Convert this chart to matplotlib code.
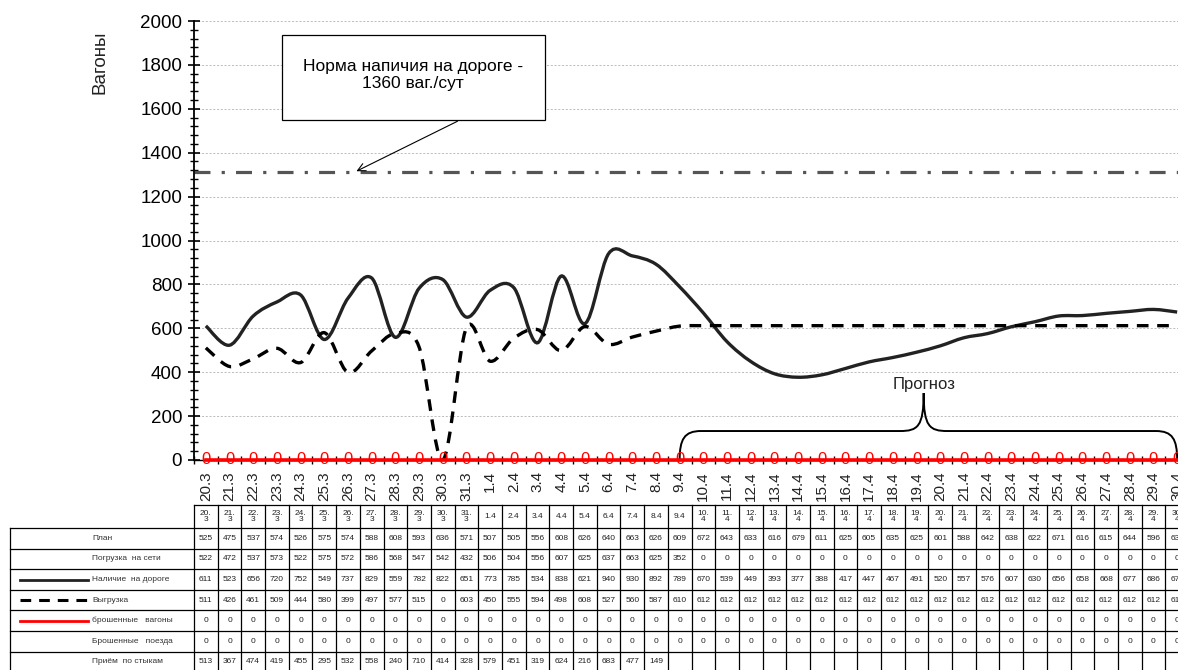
import matplotlib
matplotlib.use("Agg")
import matplotlib.pyplot as plt
from matplotlib.path import Path
from matplotlib.patches import PathPatch, Rectangle
from matplotlib.ticker import MultipleLocator, FixedLocator

plt.rcParams['font.family'] = ['Liberation Sans', 'DejaVu Sans']

# ---- данные ----
dates = ['20.3', '21.3', '22.3', '23.3', '24.3', '25.3', '26.3', '27.3', '28.3', '29.3', '30.3', '31.3',
         '1.4', '2.4', '3.4', '4.4', '5.4', '6.4', '7.4', '8.4', '9.4', '10.4', '11.4', '12.4', '13.4',
         '14.4', '15.4', '16.4', '17.4', '18.4', '19.4', '20.4', '21.4', '22.4', '23.4', '24.4', '25.4',
         '26.4', '27.4', '28.4', '29.4', '30.4']
plan = [525, 475, 537, 574, 526, 575, 574, 588, 608, 593, 636, 571,
        507, 505, 556, 608, 626, 640, 663, 626, 609, 672, 643, 633, 616,
        679, 611, 625, 605, 635, 625, 601, 588, 642, 638, 622, 671, 616, 615, 644, 596, 634]
pogruzka = [522, 472, 537, 573, 522, 575, 572, 586, 568, 547, 542, 432,
            506, 504, 556, 607, 625, 637, 663, 625, 352] + [0] * 21
nalichie = [611, 523, 656, 720, 752, 549, 737, 829, 559, 782, 822, 651,
            773, 785, 534, 838, 621, 940, 930, 892, 789, 670, 539, 449, 393,
            377, 388, 417, 447, 467, 491, 520, 557, 576, 607, 630, 656, 658, 668, 677, 686, 674]
vygruzka = [511, 426, 461, 509, 444, 580, 399, 497, 577, 515, 0, 603,
            450, 555, 594, 498, 608, 527, 560, 587, 610] + [612] * 21
brosh_vag = [0] * 42
brosh_poezd = [0] * 42
priem = [513, 367, 474, 419, 455, 295, 532, 558, 240, 710, 414, 328,
         579, 451, 319, 624, 216, 683, 477, 149] + [None] * 22
norma = 1310

row_names = ['План', 'Погрузка  на сети', 'Наличие  на дороге', 'Выгрузка',
             'брошенные   вагоны', 'Брошенные   поезда', 'Приём  по стыкам']
rows = [plan, pogruzka, nalichie, vygruzka, brosh_vag, brosh_poezd, priem]

n = len(dates)
x = list(range(n))


def smooth_path(xs, ys):
    # сглаженная линия как в Excel (кривые Безье)
    verts = [(xs[0], ys[0])]
    codes = [Path.MOVETO]
    m = len(xs)
    for i in range(m - 1):
        a = i - 1 if i > 0 else i
        d = i + 2 if i + 2 < m else i + 1
        c1 = (xs[i] + (xs[i + 1] - xs[a]) / 6, ys[i] + (ys[i + 1] - ys[a]) / 6)
        c2 = (xs[i + 1] - (xs[d] - xs[i]) / 6, ys[i + 1] - (ys[d] - ys[i]) / 6)
        verts += [c1, c2, (xs[i + 1], ys[i + 1])]
        codes += [Path.CURVE4] * 3
    return Path(verts, codes)


W, H = 1178, 670
fig = plt.figure(figsize=(W / 100, H / 100), dpi=100)
fig.patch.set_facecolor('white')

colw = 995 / 42
ax = fig.add_axes([194 / W, 210 / H, 995 / W, 439 / H])
ax.set_xlim(-0.5, n - 0.5)
ax.set_ylim(0, 2000)

ax.yaxis.set_major_locator(MultipleLocator(200))
ax.yaxis.set_minor_locator(MultipleLocator(40))
ax.tick_params(axis='y', which='major', direction='inout', length=9, width=1.2, labelsize=13.5, pad=4)
ax.tick_params(axis='y', which='minor', direction='inout', length=6, width=1)
ax.grid(axis='y', which='major', linestyle=(0, (2.5, 2)), color='#b3b3b3', linewidth=0.6)
ax.set_axisbelow(True)

ax.xaxis.set_major_locator(FixedLocator(x))
ax.xaxis.set_minor_locator(FixedLocator([i - 0.5 for i in range(n + 1)]))
ax.set_xticklabels(dates, rotation=90, fontsize=11, color='#222222')
ax.tick_params(axis='x', which='major', length=0, pad=8)
ax.tick_params(axis='x', which='minor', direction='inout', length=6, width=1)

for s in ['top', 'right']:
    ax.spines[s].set_visible(False)
ax.spines['left'].set_linewidth(1.3)
ax.spines['bottom'].set_linewidth(1)

# норма
ax.axhline(norma, color='#555555', linewidth=2.3, linestyle=(0, (5, 3.5, 1, 3.5)), zorder=2)

# кривые
ax.add_patch(PathPatch(smooth_path(x, nalichie), fill=False, edgecolor='#222222', linewidth=2.4, zorder=4))
ax.add_patch(PathPatch(smooth_path(x, vygruzka), fill=False, edgecolor='black', linewidth=2.4,
                       linestyle=(0, (3.5, 2.6)), zorder=4))
ax.plot(x, brosh_vag, color='red', linewidth=2.6, zorder=5, clip_on=False)
for xi, v in zip(x, brosh_vag):
    ax.text(xi, v, str(v), color='red', ha='center', va='center', fontsize=12, zorder=6, clip_on=False,
            family=['Liberation Sans Narrow', 'Liberation Sans', 'DejaVu Sans'])

# подпись оси
fig.text(100 / W, 1 - 62 / H, 'Вагоны', rotation=90, ha='center', va='center', fontsize=13.5, color='#222222')

# выноска нормы
fig.patches.append(Rectangle((282 / W, 1 - 120 / H), 263 / W, 85 / H, transform=fig.transFigure,
                             facecolor='white', edgecolor='black', linewidth=0.9, zorder=10))
fig.text(413 / W, 1 - 75 / H, 'Норма напичия на дороге -\n1360 ваг./сут', ha='center', va='center',
         fontsize=12.5, linespacing=1.15, zorder=11)
ax.annotate('', xy=(6.25, norma), xycoords='data', xytext=(460 / W, 1 - 120 / H),
            textcoords='figure fraction',
            arrowprops=dict(arrowstyle='->', color='black', linewidth=0.8, mutation_scale=14))

# скобка "Прогноз"
bx0, bx1, bc = 20, 41, 30.3
by, bt = 132, 305
brace_v = [(bx0, 0), (bx0, 95), (bx0 + 0.2, by), (bx0 + 0.9, by), (bc - 1.0, by),
           (bc - 0.25, by), (bc, by + 20), (bc, bt),
           (bc, by + 20), (bc + 0.25, by), (bc + 1.0, by), (bx1 - 0.9, by),
           (bx1 - 0.2, by), (bx1, 95), (bx1, 0)]
brace_c = [Path.MOVETO, Path.CURVE4, Path.CURVE4, Path.CURVE4, Path.LINETO,
           Path.CURVE4, Path.CURVE4, Path.CURVE4,
           Path.CURVE4, Path.CURVE4, Path.CURVE4, Path.LINETO,
           Path.CURVE4, Path.CURVE4, Path.CURVE4]
ax.add_patch(PathPatch(Path(brace_v, brace_c), fill=False, edgecolor='black', linewidth=1.4,
                       zorder=3, clip_on=False))
ax.text(bc, bt + 40, 'Прогноз', ha='center', va='center', fontsize=12, color='#222222')

# ---- таблица данных ----
tx0 = 10
left_u = (tx0 - 194) / colw - 0.5
tab = fig.add_axes([tx0 / W, 0, (194 + 995 - tx0) / W, 165 / H])
tab.set_xlim(left_u, n - 0.5)
tab.set_ylim(165, 0)
tab.axis('off')

hdr = 23
rh = 20.6
lw = 0.9
bottom = hdr + rh * len(rows)
# вертикальные линии
for i in range(n + 1):
    tab.plot([i - 0.5, i - 0.5], [0, bottom], color='black', linewidth=lw, clip_on=False)
tab.plot([left_u, left_u], [hdr, bottom], color='black', linewidth=lw, clip_on=False)
# горизонтальные линии
tab.plot([-0.5, n - 0.5], [0, 0], color='black', linewidth=lw, clip_on=False)
for r in range(len(rows) + 1):
    yy = hdr + r * rh
    tab.plot([left_u, n - 0.5], [yy, yy], color='black', linewidth=lw, clip_on=False)

# заголовки столбцов
for i, d in enumerate(dates):
    day, mon = d.split('.')
    lab = d if len(day) == 1 else day + '.\n' + mon
    tab.text(i, hdr / 2, lab, ha='center', va='center', fontsize=6, linespacing=0.95, color='#222222')

# значения
for r, vals in enumerate(rows):
    yc = hdr + r * rh + rh / 2
    for i, v in enumerate(vals):
        if v is not None:
            tab.text(i, yc, str(v), ha='center', va='center', fontsize=6, color='#222222', clip_on=False)
    tab.text((92 - 194) / colw - 0.5, yc, row_names[r], ha='left', va='center', fontsize=6, color='#333333')

# образцы линий легенды
sx0 = (20 - 194) / colw - 0.5
sx1 = (88 - 194) / colw - 0.5
yc = hdr + 2 * rh + rh / 2
tab.plot([sx0, sx1], [yc, yc], color='#222222', linewidth=2)
yc = hdr + 3 * rh + rh / 2
tab.plot([sx0, sx1], [yc, yc], color='black', linewidth=2.2, linestyle=(0, (3.5, 2.6)))
yc = hdr + 4 * rh + rh / 2
tab.plot([sx0, sx1], [yc, yc], color='red', linewidth=2)

fig.savefig('out.png', dpi=100, facecolor='white')
